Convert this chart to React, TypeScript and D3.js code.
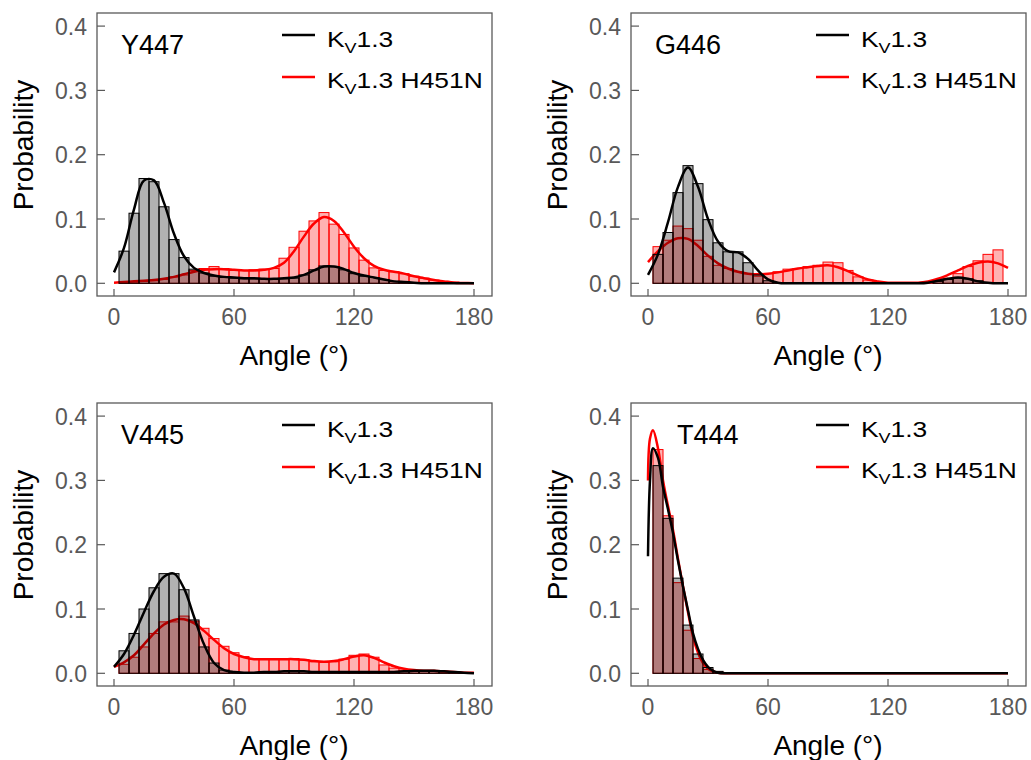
import React from "react";
import * as d3 from "d3";

// histogram bins are 5 degrees wide, centred on 5, 10, ... 175
const BIN_CENTERS = d3.range(5, 180, 5);
// angles the density lines were read at
const CURVE_ANGLES = d3.range(0, 181, 5);
const T444_ANGLES = [0, 1, 2.5, 5, 7.5, 10, 12.5, 15, 17.5, 20, 22.5, 25, 27.5, 30, 32.5, 35, 40, 50, 60, 90, 120, 150, 180];

const X_TICKS = [0, 60, 120, 180];
const Y_TICKS = [0, 0.1, 0.2, 0.3, 0.4];
const RESIDUES = ["Y447", "G446", "V445", "T444"];

// Y447
const Y447_WT_BARS = [0.050, 0.109, 0.163, 0.158, 0.119, 0.068, 0.040, 0.022, 0.016, 0.011,
  0.009, 0.008, 0.007, 0.007, 0.007, 0.006, 0.007, 0.008, 0.013, 0.021,
  0.027, 0.026, 0.021, 0.015, 0.011, 0.009, 0.006, 0.003, 0.002, 0.001,
  0.001, 0, 0, 0, 0];
const Y447_MUT_BARS = [0.001, 0.002, 0.003, 0.004, 0.006, 0.010, 0.013, 0.020, 0.023, 0.026,
  0.023, 0.020, 0.020, 0.021, 0.022, 0.023, 0.039, 0.056, 0.081, 0.097,
  0.110, 0.092, 0.076, 0.055, 0.036, 0.024, 0.020, 0.018, 0.015, 0.011,
  0.008, 0.005, 0.003, 0.002, 0.001];
const Y447_WT_CURVE = [0.017, 0.055, 0.115, 0.160, 0.160, 0.125, 0.077, 0.042, 0.024, 0.016,
  0.012, 0.010, 0.009, 0.008, 0.008, 0.007, 0.007, 0.008, 0.009, 0.013,
  0.020, 0.026, 0.026, 0.022, 0.016, 0.012, 0.009, 0.006, 0.003, 0.002,
  0.001, 0, 0, 0, 0, 0, 0];
const Y447_MUT_CURVE = [0.001, 0.002, 0.003, 0.004, 0.005, 0.007, 0.010, 0.014, 0.018, 0.021,
  0.022, 0.022, 0.021, 0.020, 0.020, 0.021, 0.024, 0.032, 0.050, 0.073,
  0.093, 0.103, 0.097, 0.079, 0.057, 0.039, 0.027, 0.021, 0.018, 0.015,
  0.011, 0.008, 0.005, 0.003, 0.001, 0.0005, 0];

// G446
const G446_WT_BARS = [0.045, 0.079, 0.141, 0.183, 0.155, 0.099, 0.063, 0.049, 0.049, 0.032,
  0.013, 0.004, 0.001, 0, 0, 0, 0, 0, 0, 0,
  0, 0, 0, 0, 0, 0, 0, 0, 0.003, 0.006,
  0.008, 0.007, 0.004, 0.001, 0];
const G446_MUT_BARS = [0.057, 0.067, 0.089, 0.085, 0.067, 0.042, 0.028, 0.023, 0.018, 0.015,
  0.011, 0.015, 0.018, 0.022, 0.023, 0.026, 0.028, 0.033, 0.032, 0.020,
  0.010, 0.005, 0.002, 0.001, 0.001, 0.001, 0.001, 0.002, 0.004, 0.008,
  0.015, 0.026, 0.035, 0.045, 0.052];
const G446_WT_CURVE = [0.013, 0.045, 0.095, 0.150, 0.180, 0.150, 0.100, 0.065, 0.050, 0.048,
  0.038, 0.020, 0.006, 0.001, 0, 0, 0, 0, 0, 0,
  0, 0, 0, 0, 0, 0, 0, 0, 0.001, 0.004,
  0.007, 0.009, 0.007, 0.003, 0.001, 0, 0];
const G446_MUT_CURVE = [0.033, 0.050, 0.063, 0.070, 0.069, 0.058, 0.043, 0.031, 0.023, 0.018,
  0.015, 0.014, 0.015, 0.017, 0.020, 0.023, 0.025, 0.027, 0.028, 0.025,
  0.019, 0.012, 0.006, 0.003, 0.001, 0.001, 0.001, 0.001, 0.003, 0.007,
  0.013, 0.020, 0.027, 0.032, 0.034, 0.031, 0.024];

// V445
const V445_WT_BARS = [0.035, 0.062, 0.100, 0.133, 0.155, 0.155, 0.130, 0.083, 0.041, 0.016,
  0.005, 0.002, 0.001, 0.001, 0.002, 0.002, 0.003, 0.004, 0.003, 0.002,
  0.002, 0.002, 0.002, 0.002, 0.002, 0.002, 0.002, 0.002, 0.003, 0.004,
  0.004, 0.004, 0.003, 0.002, 0.001];
const V445_MUT_BARS = [0.014, 0.025, 0.041, 0.062, 0.080, 0.080, 0.089, 0.081, 0.070, 0.054,
  0.042, 0.032, 0.026, 0.022, 0.022, 0.023, 0.023, 0.023, 0.021, 0.018,
  0.017, 0.018, 0.022, 0.028, 0.030, 0.025, 0.013, 0.008, 0.005, 0.004,
  0.004, 0.003, 0.002, 0.001, 0.001];
const V445_WT_CURVE = [0.010, 0.030, 0.060, 0.095, 0.128, 0.150, 0.155, 0.132, 0.088, 0.045,
  0.016, 0.005, 0.002, 0.001, 0.001, 0.002, 0.002, 0.003, 0.003, 0.003,
  0.002, 0.002, 0.002, 0.002, 0.002, 0.002, 0.002, 0.002, 0.002, 0.003,
  0.004, 0.004, 0.004, 0.003, 0.002, 0.001, 0];
const V445_MUT_CURVE = [0.010, 0.017, 0.028, 0.045, 0.062, 0.076, 0.083, 0.084, 0.078, 0.066,
  0.052, 0.039, 0.030, 0.025, 0.022, 0.022, 0.022, 0.022, 0.022, 0.021,
  0.019, 0.018, 0.019, 0.022, 0.026, 0.028, 0.024, 0.017, 0.011, 0.007,
  0.005, 0.004, 0.004, 0.003, 0.002, 0.001, 0.001];

// T444
const T444_WT_BARS = [0.323, 0.241, 0.148, 0.075, 0.030, 0.009, 0.003, 0, 0, 0,
  0, 0, 0, 0, 0, 0, 0, 0, 0, 0,
  0, 0, 0, 0, 0, 0, 0, 0, 0, 0,
  0, 0, 0, 0, 0];
const T444_MUT_BARS = [0.348, 0.245, 0.141, 0.067, 0.023, 0.006, 0.002, 0, 0, 0,
  0, 0, 0, 0, 0, 0, 0, 0, 0, 0,
  0, 0, 0, 0, 0, 0, 0, 0, 0, 0,
  0, 0, 0, 0, 0];
const T444_WT_CURVE = [0.182, 0.30, 0.35, 0.335, 0.29, 0.255, 0.218, 0.175, 0.135, 0.098, 0.062, 0.038,
  0.021, 0.010, 0.004, 0.001, 0, 0, 0, 0, 0, 0, 0];
const T444_MUT_CURVE = [0.30, 0.365, 0.378, 0.35, 0.30, 0.26, 0.223, 0.178, 0.135, 0.095, 0.057, 0.032,
  0.016, 0.007, 0.003, 0.001, 0, 0, 0, 0, 0, 0, 0];

const FONT = "'Liberation Sans', Arial, sans-serif";
const TICK_GREY = "#595959";

function Panel({ name, titleX, wtBars, mutBars, angles, wtCurve, mutCurve, dx, dy }) {
  // scales in panel coordinates (top-left panel), shifted with a transform
  const x = d3.scaleLinear().domain([0, 180]).range([114, 474]);
  const y = d3.scaleLinear().domain([0, 0.4]).range([283.3, 26.1]);
  const box = { left: 97, right: 492, top: 13, bottom: 296 };

  const line = d3.line<number>()
    .x((_, i) => x(angles[i]))
    .y(d => y(d))
    .curve(d3.curveCatmullRom.alpha(0.5));

  const bars = (vals: number[], fill: string, stroke: string) =>
    vals.map((v, i) => v > 0 && (
      <rect key={i}
        x={x(BIN_CENTERS[i] - 2.5)} width={x(BIN_CENTERS[i] + 2.5) - x(BIN_CENTERS[i] - 2.5)}
        y={y(v)} height={y(0) - y(v)}
        fill={fill} stroke={stroke} strokeWidth={1} />
    ));

  return (
    <g transform={`translate(${dx},${dy})`}>
      {/* red histogram + density first, black on top */}
      {bars(mutBars, "rgba(255,0,0,0.3)", "#ff0000")}
      <path d={line(mutCurve)} fill="none" stroke="#ff0000" strokeWidth={2.5} />
      {bars(wtBars, "rgba(0,0,0,0.3)", "#000")}
      <path d={line(wtCurve)} fill="none" stroke="#000" strokeWidth={2.5} />

      <rect x={box.left} y={box.top} width={box.right - box.left} height={box.bottom - box.top}
        fill="none" stroke={TICK_GREY} strokeWidth={1.3} />

      {X_TICKS.map(t => (
        <g key={t}>
          <line x1={x(t)} x2={x(t)} y1={box.bottom} y2={box.bottom - 7} stroke={TICK_GREY} strokeWidth={1.2} />
          <text x={x(t)} y={325} textAnchor="middle" fontSize={23} fill={TICK_GREY} fontFamily={FONT}>{t}</text>
        </g>
      ))}
      {Y_TICKS.map(t => (
        <g key={t}>
          <line x1={box.left} x2={box.left + 8} y1={y(t)} y2={y(t)} stroke={TICK_GREY} strokeWidth={1.2} />
          <text x={87} y={y(t) + 8.5} textAnchor="end" fontSize={23} fill={TICK_GREY} fontFamily={FONT}>{t.toFixed(1)}</text>
        </g>
      ))}

      <text x={294} y={365} textAnchor="middle" fontSize={28} fontFamily={FONT}>Angle (°)</text>
      <text transform="translate(33,145) rotate(-90)" textAnchor="middle" fontSize={28} fontFamily={FONT}>Probability</text>

      <text x={titleX} y={54} fontSize={27} fontFamily={FONT}>{name}</text>

      {/* legend */}
      <line x1={282} x2={315} y1={35} y2={35} stroke="#000" strokeWidth={2.5} />
      <line x1={282} x2={315} y1={77} y2={77} stroke="#ff0000" strokeWidth={2.5} />
      <text transform="translate(327,47) scale(1.2,1)" fontSize={22} fontFamily={FONT}>
        K<tspan fontSize={15} dy={6}>V</tspan><tspan dy={-6}>1.3</tspan>
      </text>
      <text transform="translate(327,88) scale(1.2,1)" fontSize={22} fontFamily={FONT}>
        K<tspan fontSize={15} dy={6}>V</tspan><tspan dy={-6}>1.3 H451N</tspan>
      </text>
    </g>
  );
}

export default function App() {
  return (
    <svg width={1031} height={760} style={{ position: "absolute", left: 0, top: 0, background: "#fff" }}>
      <Panel name={RESIDUES[0]} titleX={121} wtBars={Y447_WT_BARS} mutBars={Y447_MUT_BARS}
        angles={CURVE_ANGLES} wtCurve={Y447_WT_CURVE} mutCurve={Y447_MUT_CURVE} dx={0} dy={0} />
      <Panel name={RESIDUES[1]} titleX={121} wtBars={G446_WT_BARS} mutBars={G446_MUT_BARS}
        angles={CURVE_ANGLES} wtCurve={G446_WT_CURVE} mutCurve={G446_MUT_CURVE} dx={534} dy={0} />
      <Panel name={RESIDUES[2]} titleX={121} wtBars={V445_WT_BARS} mutBars={V445_MUT_BARS}
        angles={CURVE_ANGLES} wtCurve={V445_WT_CURVE} mutCurve={V445_MUT_CURVE} dx={0} dy={390} />
      <Panel name={RESIDUES[3]} titleX={143} wtBars={T444_WT_BARS} mutBars={T444_MUT_BARS}
        angles={T444_ANGLES} wtCurve={T444_WT_CURVE} mutCurve={T444_MUT_CURVE} dx={534} dy={390} />
    </svg>
  );
}
